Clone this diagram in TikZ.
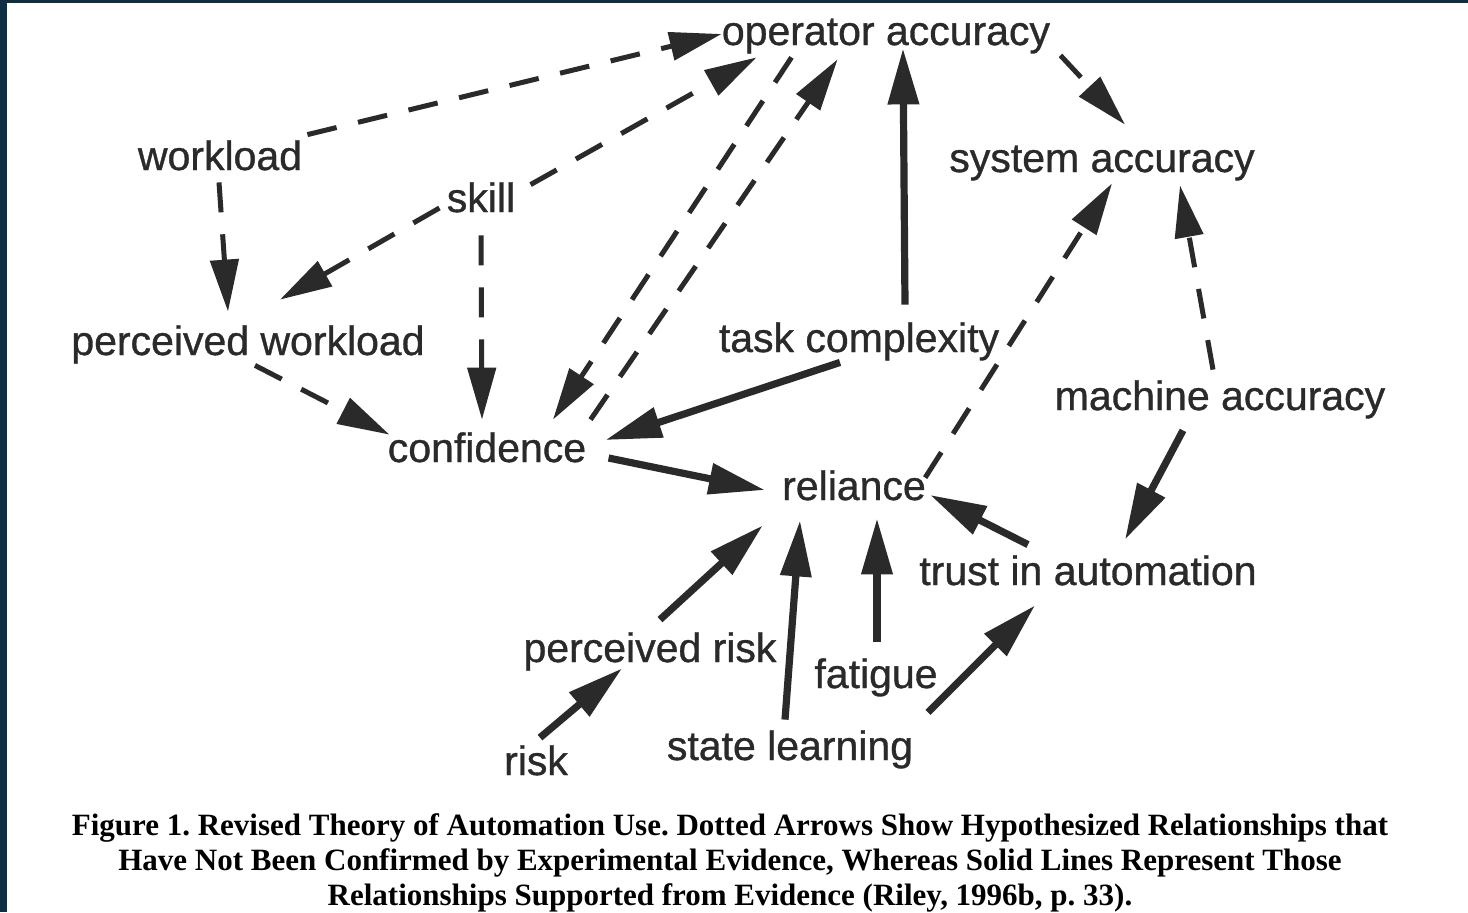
\documentclass[tikz,border=0pt]{standalone}
\usepackage{fontspec}
\setmainfont{Liberation Serif}
\setsansfont{Liberation Sans}
\newfontfamily\diagfont{Liberation Sans}[FakeBold=0.8]
\usetikzlibrary{arrows.meta}
\definecolor{ink}{HTML}{2A2A2A}
\definecolor{frame}{HTML}{0E2F43}
\begin{document}
\frenchspacing
\begin{tikzpicture}[x=0.5pt,y=-0.5pt,
  lbl/.style={font=\diagfont\fontsize{20.5}{24}\selectfont, text=ink, inner sep=0pt, anchor=base, text height=15pt, text depth=4pt},
  captxt/.style={font=\bfseries\fontsize{15.5}{17.5}\selectfont, text=black, inner sep=0pt, anchor=base},
  sol/.style={draw=ink, line width=3.6pt, -{Triangle[length=28pt,width=15pt]}},
  dsh/.style={draw=ink, line width=2.5pt, dash pattern=on 15pt off 11pt, -{Triangle[length=26pt,width=14pt]}},
]
\useasboundingbox (0,0) rectangle (1468,912);
\fill[white] (0,0) rectangle (1468,912);
\fill[frame] (0,0) rectangle (7,912);
\fill[frame] (0,0) rectangle (1468,3);

\node[lbl] (OA) at (886,45) {operator accuracy};
\node[lbl] (WL) at (220,170) {workload};
\node[lbl] (SK) at (481,212) {skill};
\node[lbl] (SA) at (1102,172) {system accuracy};
\node[lbl] (PW) at (248,355) {perceived workload};
\node[lbl] (TC) at (859,352) {task complexity};
\node[lbl] (MA) at (1220,410) {machine accuracy};
\node[lbl] (CF) at (487,462) {confidence};
\node[lbl] (RL) at (854,500) {reliance};
\node[lbl] (TA) at (1088,585) {trust in automation};
\node[lbl] (PR) at (650,662) {perceived risk};
\node[lbl] (FT) at (876,688) {fatigue};
\node[lbl] (RK) at (536,775) {risk};
\node[lbl] (SL) at (790,760) {state learning};

% hypothesized (dashed)
\draw[dsh] ([shift={(5,-5)}]WL.north east) -- (OA.west);
\draw[dsh] ([shift={(15,3)}]SK.north east) -- ([shift={(35,4)}]OA.south west);
\draw[dsh] ([shift={(-1,4)}]WL.south) -- ([shift={(-20,-13)}]PW.north);
\draw[dsh] ([shift={(-7,7)}]SK.west) -- ([shift={(32,-25)}]PW.north);
\draw[dsh] ([shift={(0,15)}]SK.south) -- ([shift={(-5,-12)}]CF.north);
\draw[dsh] ([shift={(7,2)}]PW.south) -- ([shift={(2,3)}]CF.north west);
\draw[dsh] ([shift={(70,4)}]OA.south west) -- ([shift={(66,-12)}]CF.north);
\draw[dsh] ([shift={(4,-12)}]CF.north east) -- ([shift={(116,6)}]OA.south west);
\draw[dsh] ([shift={(10,2)}]OA.south east) -- ([shift={(23,-17)}]SA.north);
\draw[dsh] ([shift={(-1,8)}]RL.north east) -- ([shift={(10,3)}]SA.south);
\draw[dsh] ([shift={(-7,-10)}]MA.north) -- ([shift={(78,5)}]SA.south);

% supported (solid)
\draw[sol] ([shift={(46,-17)}]TC.north) -- ([shift={(17,-5)}]OA.south);
\draw[sol] ([shift={(-19,2)}]TC.south) -- ([shift={(19,-11)}]CF.east);
\draw[sol] ([shift={(22,7)}]CF.east) -- ([shift={(-17,1)}]RL.west);
\draw[sol] ([shift={(-37,12)}]MA.south) -- ([shift={(37,-15)}]TA.north);
\draw[sol] ([shift={(-60,-10)}]TA.north) -- ([shift={(4,6)}]RL.east);
\draw[sol] ([shift={(10,-12)}]PR.north) -- ([shift={(-19,17)}]RL.south west);
\draw[sol] ([shift={(-5,-10)}]SL.north) -- ([shift={(-54,12)}]RL.south);
\draw[sol] ([shift={(1,-16)}]FT.north) -- ([shift={(23,10)}]RL.south);
\draw[sol] ([shift={(4,-7)}]RK.north) -- ([shift={(-28,-2)}]PR.south);
\draw[sol] ([shift={(-10,16)}]FT.south east) -- ([shift={(-53,12)}]TA.south);

\node[captxt] (cap1) at (730,835) {Figure 1. Revised Theory of Automation Use. Dotted Arrows Show Hypothesized Relationships that};
\node[captxt] (cap2) at (730,870) {Have Not Been Confirmed by Experimental Evidence, Whereas Solid Lines Represent Those};
\node[captxt] (cap3) at (730,905) {Relationships Supported from Evidence (Riley, 1996b, p. 33).};
\end{tikzpicture}
\end{document}
